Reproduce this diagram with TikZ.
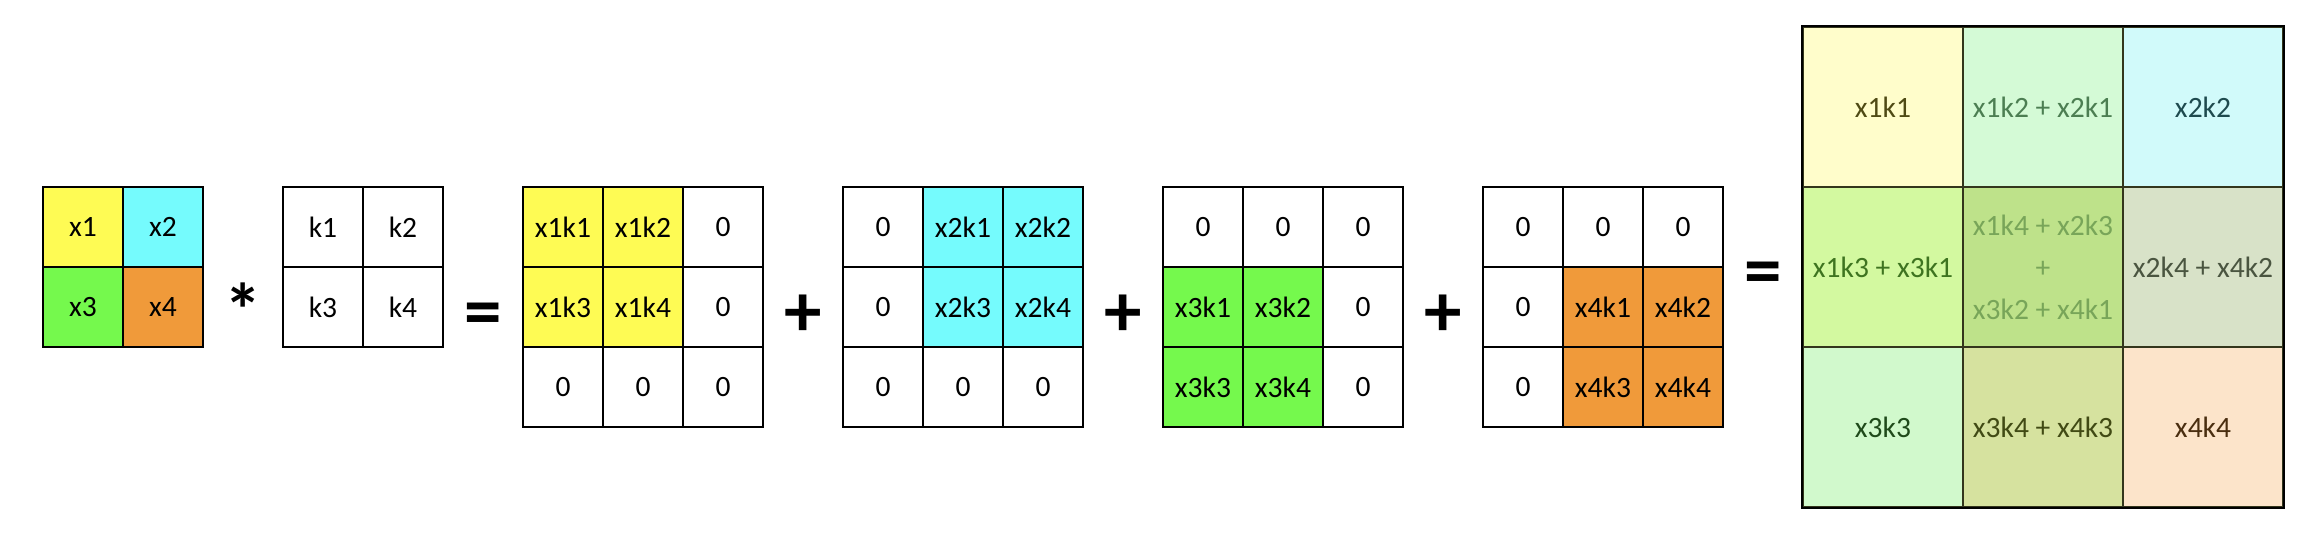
\documentclass[tikz,border=0pt]{standalone}
\usepackage{fontspec}
\setmainfont{Carlito}

\definecolor{cyel}{HTML}{FEFB54}
\definecolor{ccyan}{HTML}{75FBFD}
\definecolor{cgreen}{HTML}{75F94D}
\definecolor{corange}{HTML}{F09A3A}
\definecolor{gridline}{HTML}{33361C}

\begin{document}
\begin{tikzpicture}[x=0.5pt,y=-0.5pt,
    cell/.style={draw, line width=1pt, minimum width=40pt, minimum height=40pt,
        inner sep=0pt, font=\fontsize{14.75pt}{18pt}\selectfont},
    bigcell/.style={draw=gridline, line width=1pt, minimum width=80pt, minimum height=80pt,
        inner sep=0pt, align=center, font=\fontsize{14.75pt}{21pt}\selectfont},
    op/.style={anchor=base, inner sep=0pt, font=\fontsize{37.5pt}{40pt}\selectfont\bfseries}]
    \useasboundingbox (0,0) rectangle (2320,538);

    % Input x
    \foreach \n/\x/\y/\t/\c in {X11/83/227/x1/cyel, X12/163/227/x2/ccyan,
        X21/83/307/x3/cgreen, X22/163/307/x4/corange}
        \node[cell, fill=\c] (\n) at (\x,\y) {\t};

    % Kernel k
    \foreach \n/\x/\y/\t in {K11/323/227/k1, K12/403/227/k2,
        K21/323/307/k3, K22/403/307/k4}
        \node[cell] (\n) at (\x,\y) {\t};

    % Partial results
    \foreach \n/\x/\y/\t/\c in {A11/563/227/x1k1/cyel, A12/643/227/x1k2/cyel, A13/723/227/0/white,
        A21/563/307/x1k3/cyel, A22/643/307/x1k4/cyel, A23/723/307/0/white,
        A31/563/387/0/white, A32/643/387/0/white, A33/723/387/0/white}
        \node[cell, fill=\c] (\n) at (\x,\y) {\t};

    \foreach \n/\x/\y/\t/\c in {B11/883/227/0/white, B12/963/227/x2k1/ccyan, B13/1043/227/x2k2/ccyan,
        B21/883/307/0/white, B22/963/307/x2k3/ccyan, B23/1043/307/x2k4/ccyan,
        B31/883/387/0/white, B32/963/387/0/white, B33/1043/387/0/white}
        \node[cell, fill=\c] (\n) at (\x,\y) {\t};

    \foreach \n/\x/\y/\t/\c in {C11/1203/227/0/white, C12/1283/227/0/white, C13/1363/227/0/white,
        C21/1203/307/x3k1/cgreen, C22/1283/307/x3k2/cgreen, C23/1363/307/0/white,
        C31/1203/387/x3k3/cgreen, C32/1283/387/x3k4/cgreen, C33/1363/387/0/white}
        \node[cell, fill=\c] (\n) at (\x,\y) {\t};

    \foreach \n/\x/\y/\t/\c in {D11/1523/227/0/white, D12/1603/227/0/white, D13/1683/227/0/white,
        D21/1523/307/0/white, D22/1603/307/x4k1/corange, D23/1683/307/x4k2/corange,
        D31/1523/387/0/white, D32/1603/387/x4k3/corange, D33/1683/387/x4k4/corange}
        \node[cell, fill=\c] (\n) at (\x,\y) {\t};

    % Sum
    \foreach \n/\x/\y/\t/\c/\f in {R11/1883/107/x1k1/FFFDCB/4F4A14,
        R12/2043/107/x1k2 + x2k1/D4FAD6/4C7E52,
        R13/2203/107/x2k2/D1FAFA/1E4A4E,
        R21/1883/267/x1k3 + x3k1/D3F9A0/3E7420,
        R22/2043/267/{x1k4 + x2k3\\+\\x3k2 + x4k1}/BEE28A/78A559,
        R23/2203/267/x2k4 + x4k2/D8E2C8/4A5540,
        R31/1883/427/x3k3/D1F9CC/1F4A1A,
        R32/2043/427/x3k4 + x4k3/D6E29F/414A14,
        R33/2203/427/x4k4/FCE4CA/4A2E10} {
        \definecolor{sumfill}{HTML}{\c}
        \definecolor{sumtext}{HTML}{\f}
        \node[bigcell, fill=sumfill, text=sumtext] (\n) at (\x,\y) {\t};
    }
    \draw[line width=1pt] (R11.north west) rectangle (R33.south east);

    % Operators
    \node[op] (times) at (243,336) {*};
    \node[op] (eqA) at (483,336) {=};
    \node[op] (plusA) at (803,336) {+};
    \node[op] (plusB) at (1123,336) {+};
    \node[op] (plusC) at (1443,336) {+};
    \node[op] (eqB) at (1763,295) {=};
\end{tikzpicture}
\end{document}
